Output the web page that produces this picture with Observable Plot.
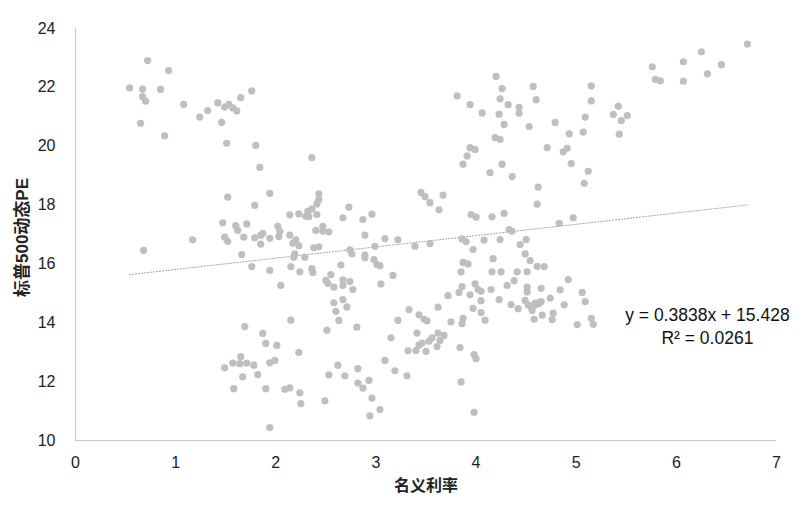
<!DOCTYPE html>
<html>
<head>
<meta charset="utf-8">
<script src="https://cdn.jsdelivr.net/npm/d3@7"></script>
<script src="https://cdn.jsdelivr.net/npm/@observablehq/plot@0.6"></script>
<style>
  html, body { margin: 0; padding: 0; background: #fff; }
  #chart { width: 810px; height: 509px; }
</style>
</head>
<body>
<div id="chart"></div>
<script>
// 名义利率 (x) and 标普500动态PE (y), paired by index
const rate = [
  0.72,0.93,0.54,0.67,0.85,0.67,0.70,1.08,1.24,1.32,1.42,1.49,1.53,1.57,1.61,1.65,1.76,0.65,0.89,1.46,1.51,1.80,
  2.36,1.84,1.52,1.94,1.79,1.47,1.60,1.62,1.71,2.02,1.49,1.52,1.68,1.79,1.85,1.87,1.94,2.03,1.85,1.17,0.68,1.66,1.76,1.94,2.05,
  1.69,1.87,1.90,2.01,1.65,1.57,1.64,1.71,1.78,1.49,1.94,1.99,1.67,1.82,1.58,1.90,1.94,
  2.43,2.43,2.41,2.36,2.32,2.30,2.33,2.41,2.14,2.23,2.73,2.67,2.87,2.96,3.45,3.49,3.54,3.67,3.63,2.04,2.14,2.20,2.17,2.23,
  2.40,2.47,2.47,2.53,2.89,3.09,3.22,3.39,3.54,2.38,2.43,2.99,2.74,2.76,2.89,2.89,2.98,3.01,3.04,2.19,2.18,2.29,2.15,2.24,
  2.36,2.37,2.65,2.55,3.17,2.50,2.52,2.58,2.67,2.67,2.74,3.05,2.77,
  2.58,2.67,2.71,2.60,2.63,2.51,2.81,2.15,2.23,2.09,2.14,2.24,2.25,2.49,2.62,2.53,2.69,2.82,2.82,2.87,2.93,2.96,3.04,2.94,
  3.09,3.19,3.31,3.15,3.22,3.33,3.43,3.48,3.51,3.62,3.72,3.75,3.41,3.32,3.40,3.43,3.46,3.50,3.53,3.56,3.62,3.68,3.64,3.61,
  4.20,4.26,4.57,5.15,3.81,3.94,4.06,4.24,4.32,4.23,4.43,4.43,4.60,5.15,5.42,5.37,5.45,5.43,5.09,5.07,4.79,4.93,4.28,4.53,
  4.19,4.24,3.94,3.99,3.91,3.87,4.71,4.91,4.87,4.95,4.26,4.14,4.36,5.12,5.08,4.62,5.51,
  4.61,3.95,4.00,4.16,4.28,4.83,4.97,4.33,4.36,3.86,3.90,4.08,4.24,4.44,4.50,3.97,4.49,4.54,4.17,3.87,3.92,4.61,4.68,
  3.85,4.16,4.25,4.41,4.51,4.38,4.31,3.99,3.86,4.02,4.05,3.83,4.15,3.94,4.51,4.51,4.65,4.92,4.84,5.06,5.09,4.05,4.23,
  4.35,4.42,3.97,4.05,4.09,4.49,4.52,4.55,4.58,4.62,4.65,4.74,4.56,4.59,4.63,4.58,4.66,4.77,4.76,4.88,5.01,5.15,5.17,3.87,3.86,
  3.84,3.98,4.00,3.85,3.98,
  6.71,6.25,6.07,6.45,6.31,5.76,5.79,5.84,6.07
];
const pe = [
  22.91,22.57,21.98,21.94,21.93,21.69,21.53,21.42,20.99,21.21,21.47,21.33,21.42,21.30,21.20,21.65,21.88,20.78,20.35,20.81,20.10,20.03,
  19.61,19.28,18.27,18.40,17.99,17.40,17.30,17.14,17.36,17.28,16.91,16.77,16.91,16.89,16.97,17.04,16.87,16.93,16.67,16.82,16.46,16.32,15.91,15.78,15.27,
  13.87,13.64,13.30,13.23,12.85,12.63,12.61,12.63,12.56,12.47,12.64,12.72,12.16,12.24,11.76,11.76,10.44,
  18.38,18.19,18.04,17.87,17.79,17.62,17.61,17.68,17.67,17.70,17.93,17.57,17.51,17.69,18.43,18.29,18.08,18.34,17.84,17.11,16.98,16.82,16.70,16.62,
  17.14,17.28,17.11,17.09,16.98,16.86,16.82,16.60,16.69,16.55,16.58,16.60,16.48,16.34,16.30,16.21,16.15,15.98,15.94,16.34,16.23,16.23,15.91,15.73,
  15.84,15.71,15.96,15.64,15.61,15.44,15.34,15.21,15.46,15.27,15.40,15.32,15.13,
  14.68,14.79,14.54,14.39,14.08,13.75,13.85,14.09,12.99,11.74,11.79,11.62,11.25,11.35,12.56,12.23,12.20,12.44,11.95,11.78,12.04,11.44,11.05,10.84,
  12.72,12.37,12.20,13.49,14.08,14.45,14.27,14.12,14.07,14.53,14.92,14.03,13.65,13.05,13.06,13.24,13.31,13.03,13.37,13.49,13.65,13.57,13.40,13.19,
  22.37,21.96,22.03,22.05,21.71,21.41,21.13,21.61,21.41,21.09,21.32,21.12,21.58,21.54,21.36,21.08,20.87,20.41,20.99,20.48,20.81,20.42,20.74,20.67,
  20.29,20.23,19.95,19.89,19.67,19.39,19.95,19.93,19.81,19.41,19.39,19.10,18.97,19.15,18.74,18.61,21.04,
  18.03,17.68,17.59,17.60,17.72,17.38,17.57,17.17,17.11,16.85,16.76,16.81,16.83,16.66,16.83,16.49,16.34,16.11,16.18,16.05,16.00,15.92,15.91,
  15.73,15.73,15.73,15.73,15.73,15.43,15.27,15.32,15.23,15.13,15.07,15.03,15.13,14.95,15.21,15.05,15.17,15.47,15.12,15.03,14.72,14.75,14.79,
  14.62,14.48,14.49,14.35,14.09,14.76,14.61,14.53,14.59,14.64,14.72,14.84,14.42,14.67,14.69,14.12,14.26,14.33,14.11,14.61,13.94,14.15,13.95,14.15,13.97,
  13.16,12.92,12.78,11.99,10.96,
  23.47,23.21,22.87,22.77,22.46,22.70,22.27,22.22,22.21
];
const xTicks = [0, 1, 2, 3, 4, 5, 6, 7];
const yTicks = [10, 12, 14, 16, 18, 20, 22, 24];
const slope = 0.3838, intercept = 15.428;
const eqLines = ["y = 0.3838x + 15.428", "R² = 0.0261"];
const xTitle = "名义利率";
const yTitle = "标普500动态PE";

const data = rate.map((r, i) => ({rate: r, pe: pe[i]}));
const [xmin, xmax] = d3.extent(rate);
const trend = [xmin, xmax].map(x => ({rate: x, pe: intercept + slope * x}));
const eqPos = [{rate: 6.31, pe: 13.92, label: eqLines.join("\n")}];

const font = "'Liberation Sans', Arial, 'Noto Sans CJK SC', sans-serif";
const chart = Plot.plot({
  width: 810,
  height: 509,
  marginLeft: 75,
  marginRight: 34,
  marginTop: 28,
  marginBottom: 69,
  style: {fontFamily: font, fontSize: "16px", color: "#222", background: "#fff"},
  x: {domain: [0, 7]},
  y: {domain: [10, 24]},
  marks: [
    Plot.ruleX([0], {stroke: "#c8c8c8"}),
    Plot.ruleY([10], {stroke: "#c8c8c8"}),
    Plot.axisX({ticks: xTicks, tickFormat: d3.format("d"), tickSize: 0, tickPadding: 16, label: null, fontSize: 16}),
    Plot.axisY({ticks: yTicks, tickFormat: d3.format("d"), tickSize: 0, tickPadding: 20, label: null, fontSize: 16}),
    Plot.line(trend, {x: "rate", y: "pe", stroke: "#a6a6a6", strokeWidth: 1, strokeDasharray: "1.2,1.8"}),
    Plot.dot(data, {x: "rate", y: "pe", r: 3.6, fill: "#bfbfbf", stroke: "none"}),
    Plot.text(eqPos, {x: "rate", y: "pe", text: "label", fontSize: 17.5, fill: "#111", lineHeight: 1.3, textAnchor: "middle"}),
    Plot.text([xTitle], {frameAnchor: "bottom", dy: 50, text: d => d, fontSize: 16, fontWeight: "bold", fill: "#222"}),
    Plot.text([yTitle], {frameAnchor: "left", textAnchor: "middle", dx: -53, dy: 3, rotate: -90, text: d => d, fontSize: 17, fontWeight: "bold", fill: "#222"})
  ]
});
document.getElementById("chart").appendChild(chart);
</script>
</body>
</html>
